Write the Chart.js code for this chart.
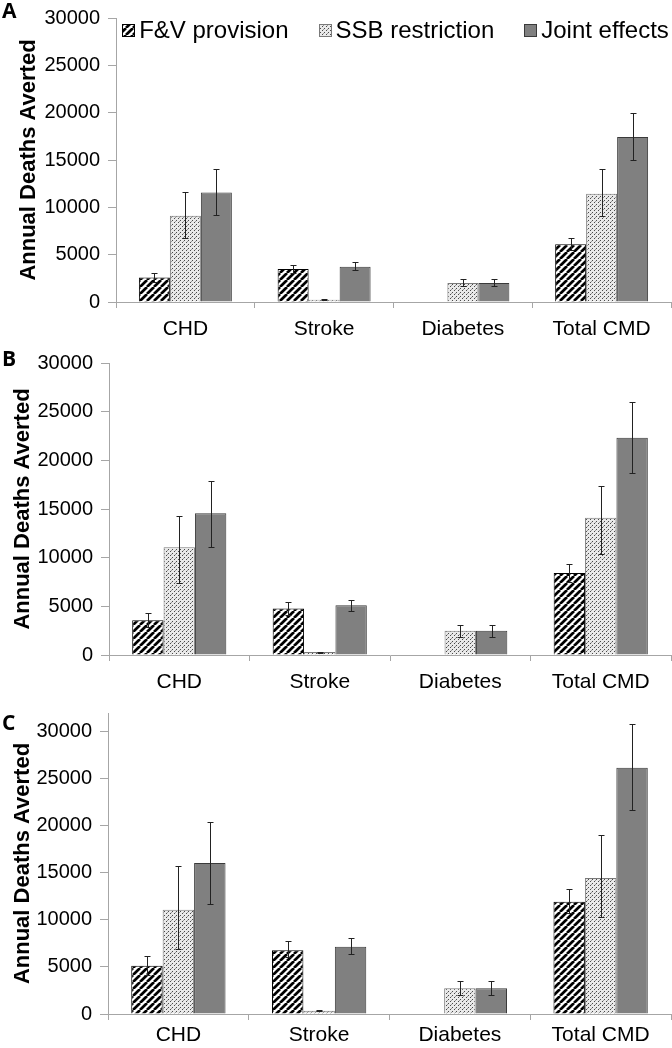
<!DOCTYPE html>
<html>
<head>
<meta charset="utf-8">
<script src="https://cdn.jsdelivr.net/npm/chart.js@4/dist/chart.umd.min.js"></script>
<style>
  body { margin: 0; background: #fff; width: 672px; height: 1048px; overflow: hidden; position: relative; }
  .panel { position: absolute; left: 0; width: 672px; }
  .tag { position: absolute; left: 2px; font: bold 21px "Open Sans", "Liberation Sans", sans-serif; line-height: 21px; color: #000; }
</style>
</head>
<body>
<div class="panel" style="top:0;height:345px"><canvas id="chartA"></canvas></div>
<div class="panel" style="top:345px;height:350px"><canvas id="chartB"></canvas></div>
<div class="panel" style="top:695px;height:353px"><canvas id="chartC"></canvas></div>
<div class="tag" style="top:0px">A</div>
<div class="tag" style="top:348px">B</div>
<div class="tag" style="top:712px">C</div>
<script>
// categories and series
const categories = ["CHD", "Stroke", "Diabetes", "Total CMD"];
const seriesNames = ["F&V provision", "SSB restriction", "Joint effects"];
const yTicks = [0, 5000, 10000, 15000, 20000, 25000, 30000];

// panel A
const fvA = [2600, 3490, null, 6100];
const fvA_lo = [2100, 3080, null, 5520];
const fvA_hi = [3110, 3940, null, 6780];
const ssbA = [9100, 240, 2020, 11440];
const ssbA_lo = [6750, 190, 1640, 9040];
const ssbA_hi = [11650, 290, 2470, 14080];
const jointA = [11580, 3730, 2020, 17430];
const jointA_lo = [9220, 3360, 1640, 14970];
const jointA_hi = [14080, 4180, 2470, 20010];

// panel B
const fvB = [3570, 4770, null, 8430];
const fvB_lo = [2830, 4110, null, 7500];
const fvB_hi = [4300, 5430, null, 9370];
const ssbB = [11070, 300, 2500, 14100];
const ssbB_lo = [7400, 250, 1900, 10370];
const ssbB_hi = [14270, 350, 3100, 17370];
const jointB = [14570, 5100, 2500, 22330];
const jointB_lo = [11070, 4570, 1900, 18670];
const jointB_hi = [17900, 5670, 3100, 25990];

// panel C
const fvC = [5120, 6790, null, 11940];
const fvC_lo = [4160, 6110, null, 10730];
const fvC_hi = [6150, 7710, null, 13290];
const ssbC = [11080, 350, 2740, 14460];
const ssbC_lo = [6890, 280, 2020, 10260];
const ssbC_hi = [15740, 420, 3480, 19080];
const jointC = [16060, 7140, 2740, 26190];
const jointC_lo = [11650, 6390, 2020, 21740];
const jointC_hi = [20460, 8030, 3480, 30800];

const fontFamily = '"Liberation Sans", Arial, sans-serif';
Chart.defaults.font.family = fontFamily;
Chart.defaults.color = '#000';
Chart.defaults.animation = false;

// fill patterns
function hatchPattern() {
    const s = 7;
    const c = document.createElement('canvas');
    c.width = s; c.height = s;
    const g = c.getContext('2d');
    g.fillStyle = '#fff';
    g.fillRect(0, 0, s, s);
    g.strokeStyle = '#000';
    g.lineWidth = 2.7;
    g.beginPath();
    for (const k of [-s, 0, s]) {
        g.moveTo(k, s);
        g.lineTo(k + s, 0);
    }
    g.stroke();
    return g.createPattern(c, 'repeat');
}

function dotPattern() {
    const c = document.createElement('canvas');
    c.width = 4; c.height = 4;
    const g = c.getContext('2d');
    g.fillStyle = '#e9e9e9';
    g.fillRect(0, 0, 4, 4);
    g.fillStyle = '#4a4a4a';
    g.fillRect(0, 0, 1, 1);
    g.fillRect(2, 2, 1, 1);
    g.fillStyle = '#9a9a9a';
    g.fillRect(3, 1, 1, 1);
    return g.createPattern(c, 'repeat');
}

const hatch = hatchPattern();
const dots = dotPattern();

// error bars drawn from the dataset lo/hi arrays
const errorBars = {
    id: 'errorBars',
    afterDatasetsDraw(chart) {
        const ctx = chart.ctx;
        const y = chart.scales.y;
        chart.data.datasets.forEach((ds, i) => {
            const meta = chart.getDatasetMeta(i);
            meta.data.forEach((bar, j) => {
                if (ds.lo[j] == null) return;
                const x = Math.round(bar.x) + 0.5;
                const yl = Math.round(y.getPixelForValue(ds.lo[j])) + 0.5;
                const yh = Math.round(y.getPixelForValue(ds.hi[j])) + 0.5;
                ctx.save();
                ctx.strokeStyle = '#222';
                ctx.lineWidth = 1;
                ctx.beginPath();
                ctx.moveTo(x, yl); ctx.lineTo(x, yh);
                ctx.moveTo(x - 3, yl); ctx.lineTo(x + 3, yl);
                ctx.moveTo(x - 3, yh); ctx.lineTo(x + 3, yh);
                ctx.stroke();
                ctx.restore();
            });
        });
    }
};

// legend drawn in a row inside the top of the plot area
const insideLegend = {
    id: 'insideLegend',
    afterDraw(chart, args, opts) {
        if (!opts.show) return;
        const ctx = chart.ctx;
        const area = chart.chartArea;
        const box = 13, gapText = 4, gapItem = 30;
        ctx.save();
        ctx.font = '24px ' + fontFamily;
        const items = chart.data.datasets.map(ds => ({ ds: ds, w: ctx.measureText(ds.label).width }));
        const total = items.reduce((a, it) => a + box + gapText + it.w, 0) + gapItem * (items.length - 1);
        let x = (area.left + area.right) / 2 - total / 2 + 2;
        const yc = opts.y;
        items.forEach(it => {
            const bx = Math.round(x), by = Math.round(yc - box / 2);
            ctx.fillStyle = it.ds.backgroundColor;
            ctx.fillRect(bx, by, box, box);
            ctx.strokeStyle = it.ds.borderColor;
            ctx.lineWidth = 1;
            ctx.strokeRect(bx + 0.5, by + 0.5, box - 1, box - 1);
            ctx.fillStyle = '#000';
            ctx.textBaseline = 'middle';
            ctx.textAlign = 'left';
            ctx.fillText(it.ds.label, x + box + gapText, yc + 1);
            x += box + gapText + it.w + gapItem;
        });
        ctx.restore();
    }
};

function makeChart(id, fv, fvLo, fvHi, ssb, ssbLo, ssbHi, joint, jointLo, jointHi, p) {
    return new Chart(document.getElementById(id), {
        type: 'bar',
        data: {
            labels: categories,
            datasets: [
                { label: seriesNames[0], data: fv, lo: fvLo, hi: fvHi,
                  backgroundColor: hatch, borderColor: '#000', borderWidth: 1 },
                { label: seriesNames[1], data: ssb, lo: ssbLo, hi: ssbHi,
                  backgroundColor: dots, borderColor: '#7a7a7a', borderWidth: 1 },
                { label: seriesNames[2], data: joint, lo: jointLo, hi: jointHi,
                  backgroundColor: '#808080', borderColor: '#3a3a3a', borderWidth: 1 }
            ]
        },
        options: {
            responsive: true,
            maintainAspectRatio: false,
            layout: { padding: { top: p.top, right: 1, left: 0, bottom: 0 } },
            datasets: { bar: { categoryPercentage: 0.67, barPercentage: 1.0 } },
            plugins: {
                tooltip: { enabled: false },
                legend: { display: false },
                insideLegend: { show: p.legend, y: 30 }
            },
            scales: {
                x: {
                    grid: { drawOnChartArea: false, tickLength: 6, color: '#a6a6a6' },
                    border: { color: '#a6a6a6' },
                    ticks: { font: { size: 21 }, padding: p.xPad, color: '#000' },
                    afterFit: s => { s.height = p.xHeight; }
                },
                y: {
                    min: 0,
                    max: p.max,
                    grid: { drawOnChartArea: false, tickLength: 8, color: '#a6a6a6' },
                    border: { color: '#a6a6a6' },
                    ticks: { font: { size: 20, lineHeight: 1 }, padding: 8, color: '#000',
                             callback: v => String(v) },
                    afterBuildTicks: s => { s.ticks = yTicks.map(v => ({ value: v })); },
                    title: { display: true, text: 'Annual Deaths Averted', color: '#000',
                             font: { size: 22, weight: 'bold' }, padding: { top: p.titlePad, bottom: 0 } },
                    afterFit: s => { s.width = p.yWidth; }
                }
            }
        },
        plugins: [errorBars, insideLegend]
    });
}

const chartA = makeChart('chartA', fvA, fvA_lo, fvA_hi, ssbA, ssbA_lo, ssbA_hi, jointA, jointA_lo, jointA_hi,
    { top: 10, max: 30000, xHeight: 43, xPad: 9, yWidth: 116, titlePad: 16, legend: true });
const chartB = makeChart('chartB', fvB, fvB_lo, fvB_hi, ssbB, ssbB_lo, ssbB_hi, jointB, jointB_lo, jointB_hi,
    { top: 10, max: 30000, xHeight: 40, xPad: 9, yWidth: 109, titlePad: 10, legend: false });
const chartC = makeChart('chartC', fvC, fvC_lo, fvC_hi, ssbC, ssbC_lo, ssbC_hi, jointC, jointC_lo, jointC_hi,
    { top: 18, max: 32000, xHeight: 34, xPad: 3, yWidth: 108, titlePad: 10, legend: false });
</script>
</body>
</html>
